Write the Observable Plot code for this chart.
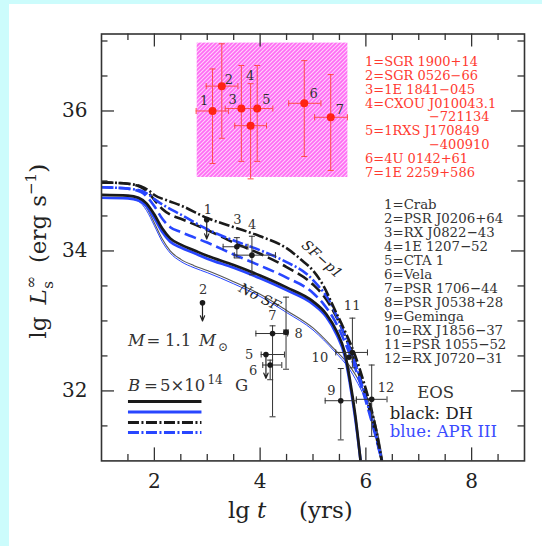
<!DOCTYPE html>
<html><head><meta charset="utf-8">
<script src="https://cdn.jsdelivr.net/npm/d3@7"></script>
<script src="https://cdn.jsdelivr.net/npm/@observablehq/plot@0.6"></script>
<style>
html,body{margin:0;padding:0;background:#ccfcfc;width:542px;height:546px;overflow:hidden;}
#wrap{position:absolute;left:9px;top:4px;width:533px;height:542px;background:#fff;}
svg{display:block;}
</style></head><body><div id="wrap"></div>
<script>
// ---------------- data ----------------
const xMajor = [2, 4, 6, 8];
const xMinor = [1.5, 2.5, 3, 3.5, 4.5, 5, 5.5, 6.5, 7, 7.5, 8.5];
const yMajor = [32, 34, 36];
const yMinor = [31.5, 32.5, 33, 33.5, 34.5, 35, 35.5, 36.5, 37];

// magnetars (red)
const magId  = [1, 2, 3, 4, 5, 6, 7];
const magLgT = [3.10, 3.275, 3.645, 3.82, 3.945, 4.835, 5.335];
const magLgL = [36.00, 36.355, 36.035, 35.79, 36.035, 36.11, 35.91];
const magTlo = [2.79, 2.98, 3.34, 3.52, 3.64, 4.54, 5.03];
const magThi = [3.40, 3.58, 3.94, 4.12, 4.24, 5.15, 5.65];
const magLlo = [35.25, 35.61, 35.28, 35.03, 35.28, 35.35, 35.15];
const magLhi = [36.60, 36.96, 36.65, 36.39, 36.65, 36.72, 36.52];
const magLabT = [2.94, 3.41, 3.48, 3.81, 4.12, 5.01, 5.51];
const magLabL = [36.14, 36.44, 36.16, 36.50, 36.16, 36.24, 36.02];
const magNames = ["1=SGR 1900+14", "2=SGR 0526\u221266", "3=1E 1841\u2212045", "4=CXOU J010043.1", "\u2212721134", "5=1RXS J170849", "\u2212400910", "6=4U 0142+61", "7=1E 2259+586"];
const magNameIndent = [0, 0, 0, 0, 1, 0, 1, 0, 0];
const magBox = {t1: 2.81, t2: 5.66, l1: 35.05, l2: 36.97};

// pulsars (black)
const psrId  = [1, 2, 3, 4, 5, 6, 7, 8, 9, 10, 11, 12];
const psrLgT = [2.99, 2.91, 3.56, 3.845, 4.11, 4.19, 4.235, 4.49, 5.525, 5.68, 5.745, 6.11];
const psrLgL = [34.445, 33.26, 34.06, 33.94, 32.52, 32.37, 32.82, 32.84, 31.86, 32.48, 32.55, 31.88];
const psrTlo = [null, null, 3.30, 3.51, 4.02, 4.05, 3.92, 4.45, 5.23, 5.62, 5.43, 5.82];
const psrThi = [null, null, 3.77, 4.29, 4.46, 4.41, 4.52, 4.53, 5.82, 5.74, 6.03, 6.40];
const psrLlo = [null, null, 33.90, 33.66, null, 32.16, 31.63, 32.31, 31.30, null, 32.33, 31.35];
const psrLhi = [null, null, 34.19, 34.21, null, 32.44, 32.93, 33.34, 32.32, null, 33.04, 32.37];
const psrLimit = [34.17, 33.00, null, null, 32.18, null, null, null, null, null, null, null];
const psrLabT = [3.01, 2.92, 3.57, 3.85, 3.79, 3.87, 4.23, 4.73, 5.35, 5.13, 5.74, 6.38];
const psrLabL = [34.59, 33.45, 34.44, 34.38, 32.51, 32.29, 33.07, 32.82, 32.00, 32.47, 33.21, 32.05];
const psrNames = ["1=Crab", "2=PSR J0206+64", "3=RX J0822\u221243", "4=1E 1207\u221252", "5=CTA 1", "6=Vela", "7=PSR 1706\u221244", "8=PSR J0538+28", "9=Geminga", "10=RX J1856\u221237", "11=PSR 1055\u221252", "12=RX J0720\u221231"];

// cooling curves [lg t, lg L]
const dhSFp1 = [[1,34.98],[1.5,34.96],[1.75,34.92],[1.9,34.86],[2.0,34.8],[2.25,34.72],[2.5,34.65],[3.0,34.47],[3.5,34.34],[4.0,34.21],[4.5,34.04],[4.8,33.86],[5.0,33.72],[5.2,33.5],[5.4,33.18],[5.6,32.86],[5.8,32.5],[5.95,32.15],[6.1,31.75],[6.2,31.42],[6.3,31.0]];
const aprSFp1 = [[1,34.91],[1.5,34.89],[1.75,34.86],[1.9,34.8],[2.0,34.74],[2.25,34.62],[2.5,34.52],[3.0,34.31],[3.5,34.15],[4.0,34.01],[4.5,33.84],[4.9,33.66],[5.1,33.5],[5.3,33.3],[5.5,32.98],[5.7,32.6],[5.9,32.15],[6.1,31.62],[6.3,31.02]];
const dhSFdash = [[1,34.98],[1.5,34.96],[1.75,34.91],[1.9,34.82],[2.0,34.73],[2.15,34.6],[2.3,34.52],[2.5,34.46],[3.0,34.30],[3.5,34.12],[4.0,33.96],[4.5,33.77],[5.0,33.52],[5.2,33.36],[5.4,33.12],[5.6,32.8],[5.8,32.4],[6.0,31.92],[6.15,31.5],[6.3,31.0]];
const aprSFdash = [[1,34.91],[1.5,34.89],[1.75,34.84],[1.9,34.74],[2.0,34.64],[2.15,34.46],[2.3,34.34],[2.5,34.27],[3.0,34.12],[3.5,33.95],[4.0,33.79],[4.5,33.62],[5.0,33.4],[5.2,33.24],[5.4,33.02],[5.6,32.7],[5.8,32.32],[6.0,31.85],[6.15,31.45],[6.3,31.0]];
const dhSF = [[1,34.8],[1.5,34.79],[1.7,34.76],[1.85,34.68],[2.0,34.52],[2.15,34.32],[2.3,34.18],[2.5,34.09],[2.75,34.01],[3.0,33.93],[3.5,33.8],[4.0,33.65],[4.5,33.48],[5.0,33.28],[5.25,33.1],[5.45,32.85],[5.6,32.55],[5.7,32.15],[5.8,31.65],[5.9,31.0]];
const aprSF = [[1,34.76],[1.5,34.75],[1.7,34.72],[1.85,34.64],[2.0,34.47],[2.15,34.27],[2.3,34.13],[2.5,34.05],[2.75,33.97],[3.0,33.89],[3.5,33.76],[4.0,33.61],[4.5,33.44],[5.0,33.24],[5.25,33.06],[5.45,32.8],[5.6,32.5],[5.7,32.1],[5.8,31.6],[5.9,31.0]];
const dhNoSF = [[1,34.8],[1.5,34.79],[1.7,34.75],[1.85,34.62],[2.0,34.4],[2.15,34.17],[2.3,34.0],[2.5,33.88],[2.75,33.79],[3.0,33.72],[3.5,33.56],[4.0,33.38],[4.5,33.15],[5.0,32.9],[5.4,32.6],[5.7,32.35],[5.9,32.1],[6.05,31.85],[6.15,31.62],[6.25,31.3],[6.32,31.0]];
const aprNoSF = [[1,34.76],[1.5,34.75],[1.7,34.71],[1.85,34.58],[2.0,34.36],[2.15,34.13],[2.3,33.97],[2.5,33.85],[2.75,33.76],[3.0,33.69],[3.5,33.53],[4.0,33.35],[4.5,33.12],[5.0,32.87],[5.4,32.57],[5.7,32.3],[5.9,32.03],[6.05,31.78],[6.15,31.55],[6.25,31.22],[6.31,31.0]];

// legend sample lines (lg t range, lg L level)
const legendT = [1.51, 2.90];
const legendL = [31.849, 31.70, 31.55, 31.406];

// ---------------- build ----------------
const BLUE = "#2846ff", RED = "#ff2414", REDBAR = "#ff4d4d", INK = "#1a1a1a";
const W = 533, H = 542, mL = 92, mR = 18, mT = 29.5, mB = 85.6;
const iW = W - mL - mR, iH = H - mT - mB;
const pxPerL = iH / (37.1 - 31);

const mag = magId.map((id, i) => ({id, t: magLgT[i], l: magLgL[i], tlo: magTlo[i], thi: magThi[i], llo: magLlo[i], lhi: magLhi[i], lt: magLabT[i], ll: magLabL[i]}));
const psr = psrId.map((id, i) => ({id, t: psrLgT[i], l: psrLgL[i], tlo: psrTlo[i], thi: psrThi[i], llo: psrLlo[i], lhi: psrLhi[i], lim: psrLimit[i], lt: psrLabT[i], ll: psrLabL[i]}));
const magRows = magNames.map((s, i) => ({s, t: magNameIndent[i] ? 7.193 : 5.985, l: 36.70 - i * 13.83 / pxPerL}));
const psrRows = psrNames.map((s, i) => ({s, t: 6.344, l: 34.656 - i * 14.0 / pxPerL}));

const hCap = {draw(ctx, size) { const r = Math.sqrt(size / Math.PI); ctx.moveTo(-r, 0); ctx.lineTo(r, 0); }};
const vCap = {draw(ctx, size) { const r = Math.sqrt(size / Math.PI); ctx.moveTo(0, -r); ctx.lineTo(0, r); }};
const vCaps = (rows) => rows.filter(d => d.llo != null).flatMap(d => [{t: d.t, l: d.llo}, {t: d.t, l: d.lhi}]);
const hCaps = (rows) => rows.filter(d => d.tlo != null).flatMap(d => [{t: d.tlo, l: d.l}, {t: d.thi, l: d.l}]);

const curve = (data, stroke, strokeWidth, dash) => Plot.line(data, {x: d => d[0], y: d => d[1], stroke, strokeWidth, strokeDasharray: dash, curve: "monotone-x", clip: true, strokeLinecap: "butt"});
const DD = "11,2.5,2,2.5", DASH = "12,5";
const legendLine = (l, stroke, dash) => Plot.ruleY([l], {y: d => d, x1: () => legendT[0], x2: () => legendT[1], stroke, strokeWidth: 3, strokeDasharray: dash});

const plot = Plot.plot({
  width: W, height: H,
  marginLeft: mL, marginRight: mR, marginTop: mT, marginBottom: mB,
  style: {background: "transparent", fontFamily: "DejaVu Serif", color: "#222", overflow: "visible"},
  x: {domain: [1, 9]},
  y: {domain: [31, 37.1]},
  marks: [
    Plot.rect([magBox], {x1: "t1", x2: "t2", y1: "l1", y2: "l2", fill: "url(#hatch)"}),
    // curves
    curve(aprNoSF, BLUE, 1, null),
    curve(dhNoSF, "#555", 1.1, null),
    curve(aprSF, BLUE, 2.7, null),
    curve(dhSF, INK, 2.7, null),
    curve(aprSFdash, BLUE, 2.6, DASH),
    curve(dhSFdash, INK, 2.6, DASH),
    curve(aprSFp1, BLUE, 2.6, DD),
    curve(dhSFp1, INK, 2.6, DD),
    Plot.text([{t: 3.99, l: 33.34, s: "No SF"}], {x: "t", y: "l", text: "s", rotate: 27, fontStyle: "italic", fontSize: 14, fill: "#222"}),
    Plot.text([{t: 5.17, l: 33.88, s: "SF\u2212p1"}], {x: "t", y: "l", text: "s", rotate: 42, fontStyle: "italic", fontSize: 14, fill: "#222"}),
    // magnetars
    Plot.ruleX(mag, {x: "t", y1: "llo", y2: "lhi", stroke: REDBAR, strokeWidth: 1}),
    Plot.ruleY(mag, {y: "l", x1: "tlo", x2: "thi", stroke: REDBAR, strokeWidth: 1}),
    Plot.dot(vCaps(mag), {x: "t", y: "l", symbol: hCap, r: 3, stroke: REDBAR, fill: "none", strokeWidth: 1}),
    Plot.dot(hCaps(mag), {x: "t", y: "l", symbol: vCap, r: 3, stroke: REDBAR, fill: "none", strokeWidth: 1}),
    Plot.dot(mag, {x: "t", y: "l", r: 4, fill: RED}),
    Plot.text(mag, {x: "lt", y: "ll", text: "id", fontSize: 13, fill: "#333"}),
    // pulsars
    Plot.ruleX(psr, {filter: d => d.llo != null, x: "t", y1: "llo", y2: "lhi", stroke: "#333", strokeWidth: 1}),
    Plot.ruleY(psr, {filter: d => d.tlo != null, y: "l", x1: "tlo", x2: "thi", stroke: "#333", strokeWidth: 1}),
    Plot.dot(vCaps(psr), {x: "t", y: "l", symbol: hCap, r: 3, stroke: "#333", fill: "none", strokeWidth: 1}),
    Plot.dot(hCaps(psr), {x: "t", y: "l", symbol: vCap, r: 3, stroke: "#333", fill: "none", strokeWidth: 1}),
    Plot.arrow(psr, {filter: d => d.lim != null, x1: "t", y1: "l", x2: "t", y2: "lim", stroke: "#222", strokeWidth: 1.2, headLength: 7, headAngle: 45}),
    Plot.dot(psr, {x: "t", y: "l", r: 2.8, fill: INK}),
    Plot.text(psr, {x: "lt", y: "ll", text: "id", fontSize: 13, fill: "#333"}),
    // name lists
    Plot.text(magRows, {x: "t", y: "l", text: "s", textAnchor: "start", fontSize: 13, fill: "#ff3a30"}),
    Plot.text(psrRows, {x: "t", y: "l", text: "s", textAnchor: "start", fontSize: 13.3, fill: "#333"}),
    // EOS
    Plot.text(["EOS"], {x: () => 7.32, y: () => 31.97, text: d => d, fontSize: 16.5, fill: "#333"}),
    Plot.text(["black: DH"], {x: () => 6.45, y: () => 31.675, text: d => d, textAnchor: "start", fontSize: 16.5, fill: "#222"}),
    Plot.text(["blue: APR III"], {x: () => 6.45, y: () => 31.41, text: d => d, textAnchor: "start", fontSize: 16.5, fill: "#3a4cff"}),
    // legend samples
    legendLine(legendL[0], INK, null),
    legendLine(legendL[1], BLUE, null),
    legendLine(legendL[2], INK, DD),
    legendLine(legendL[3], BLUE, DD),
    // frame, ticks, axes
    Plot.frame({stroke: "#333", strokeWidth: 1.6}),
    Plot.tickX(xMajor, {x: d => d, insetTop: iH - 13, stroke: "#333", strokeWidth: 1.3}),
    Plot.tickX(xMinor, {x: d => d, insetTop: iH - 6.5, stroke: "#333", strokeWidth: 1.3}),
    Plot.tickX(xMajor, {x: d => d, insetBottom: iH - 13, stroke: "#333", strokeWidth: 1.3}),
    Plot.tickX(xMinor, {x: d => d, insetBottom: iH - 6.5, stroke: "#333", strokeWidth: 1.3}),
    Plot.tickY(yMajor, {y: d => d, insetRight: iW - 13, stroke: "#333", strokeWidth: 1.3}),
    Plot.tickY(yMinor, {y: d => d, insetRight: iW - 6.5, stroke: "#333", strokeWidth: 1.3}),
    Plot.tickY(yMajor, {y: d => d, insetLeft: iW - 13, stroke: "#333", strokeWidth: 1.3}),
    Plot.tickY(yMinor, {y: d => d, insetLeft: iW - 6.5, stroke: "#333", strokeWidth: 1.3}),
    Plot.axisX(xMajor, {anchor: "bottom", tickSize: 0, tickPadding: 13, fontSize: 20, tickFormat: "d", label: null}),
    Plot.axisY(yMajor, {anchor: "left", tickSize: 0, tickPadding: 14, fontSize: 20, tickFormat: "d", label: null})
  ]
});

// ---------- hatch pattern and rich text ----------
const svg = d3.select(plot);
const defs = svg.insert("defs", ":first-child");
const pat = defs.append("pattern").attr("id", "hatch").attr("patternUnits", "userSpaceOnUse").attr("width", 4).attr("height", 4);
pat.append("rect").attr("width", 4).attr("height", 4).attr("fill", "#ff6cf4");
pat.append("path").attr("d", "M-1,1 L1,-1 M0,4 L4,0 M3,5 L5,3").attr("stroke", "#ffd2fb").attr("stroke-width", 1.1);

function rich(parent, attrs, parts) {
  const t = parent.append("text").attr("text-anchor", "start");
  for (const [k, v] of Object.entries(attrs)) t.attr(k, v);
  for (const p of parts) {
    const s = t.append("tspan").text(p.t);
    for (const [k, v] of Object.entries(p)) if (k !== "t") s.attr(k, v);
  }
  return t;
}
const F = "DejaVu Serif";
// x title
rich(svg, {y: 514.4, "font-size": 23, "font-family": F, fill: "#222"}, [
  {t: "lg", x: 219}, {t: "t", x: 248, "font-style": "italic"}, {t: "(yrs)", x: 290}
]);
// y title
const gy = svg.append("g").attr("transform", "translate(36.5,0) rotate(-90)");
rich(gy, {x: -334.7, y: 0, "font-size": 23, "font-family": F, fill: "#222"}, [
  {t: "lg"}, {t: "L", dx: 12, "font-style": "italic"},
  {t: "\u221e", "font-size": 15, dy: -10, dx: 1},
  {t: "s", "font-size": 15, dx: -13, dy: 17},
  {t: "(erg", dx: 18, dy: -7}, {t: "s", dx: 8},
  {t: "\u22121", "font-size": 15, dy: -10}, {t: ")", dy: 10}
]);
// M = 1.1 Msun
rich(svg, {y: 341.7, "font-size": 16.5, "font-family": F, fill: "#333"}, [
  {t: "M", x: 119, "font-style": "italic"}, {t: "=", x: 137.5}, {t: "1.1", x: 156},
  {t: "M", x: 190, "font-style": "italic"}, {t: "\u2299", x: 209, dy: 5, "font-size": 12}
]);
// B = 5x10^14 G
rich(svg, {y: 386.6, "font-size": 16.5, "font-family": F, fill: "#333"}, [
  {t: "B", x: 119, "font-style": "italic"}, {t: "=", x: 135}, {t: "5\u00d710", x: 151},
  {t: "14", x: 198.4, dy: -7, "font-size": 12}, {t: "G", x: 226, dy: 7}
]);

document.getElementById("wrap").appendChild(plot);
</script></body></html>
